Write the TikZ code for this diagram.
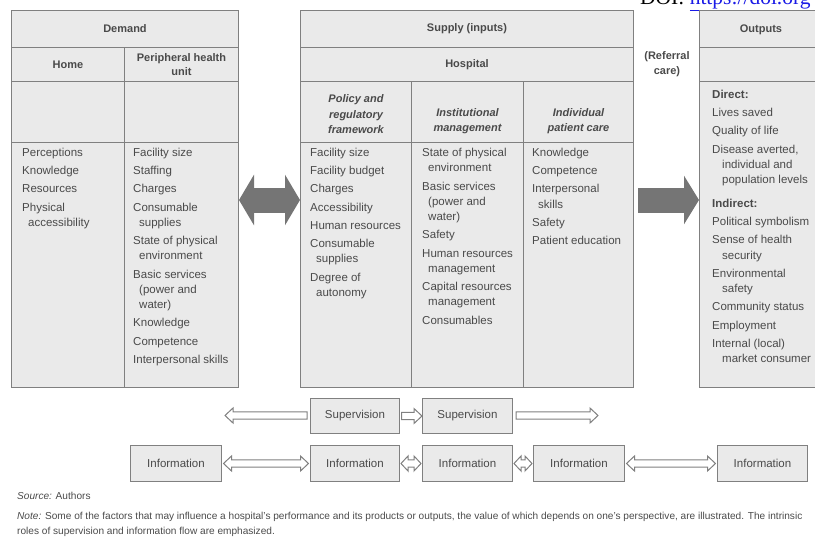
\documentclass[tikz,border=0pt]{standalone}
\usepackage{fontspec}
\setmainfont{Liberation Sans}
\newfontfamily\doifont{Liberation Serif}
\usetikzlibrary{arrows.meta,calc}
\definecolor{cellfill}{HTML}{EAEAEA}
\definecolor{cellline}{HTML}{808080}
\definecolor{txt}{HTML}{4A4A4A}
\definecolor{bigarrow}{HTML}{757575}
\definecolor{doiblue}{HTML}{1A1AE6}
\begin{document}
\begin{tikzpicture}[x=1pt,y=-1pt,
  cell/.style={draw=cellline, fill=cellfill, line width=1pt, inner sep=0pt, anchor=north west,
    text=txt, align=center, font=\fontsize{11}{14.5}\selectfont\bfseries},
  hdrit/.style={anchor=south, inner sep=0pt, align=center, text=txt,
    font=\fontsize{11}{15.5}\selectfont\bfseries\itshape},
  listtxt/.style={anchor=north west, inner sep=0pt, align=left, text=txt,
    font=\fontsize{11.5}{15.3}\selectfont},
  flowbox/.style={draw=cellline, fill=cellfill, line width=1pt, inner sep=0pt, anchor=north west,
    text=txt, font=\fontsize{11.5}{14}\selectfont},
  arrhl/.initial=8pt,
  hollow/.style={draw=cellline, fill=white, line width=1pt, line join=miter},
  % block arrow, drawn left to right, head at the right end
  blockR/.style={hollow, to path={let \p1=(\tikztostart), \p2=(\tikztotarget) in
    (\x1,\y2+3.6pt) -- (\x2-\pgfkeysvalueof{/tikz/arrhl},\y2+3.6pt) -- (\x2-\pgfkeysvalueof{/tikz/arrhl},\y2+7.5pt)
    -- (\x2,\y2) -- (\x2-\pgfkeysvalueof{/tikz/arrhl},\y2-7.5pt) -- (\x2-\pgfkeysvalueof{/tikz/arrhl},\y2-3.6pt)
    -- (\x1,\y2-3.6pt) -- cycle}},
  % head at the left end
  blockL/.style={hollow, to path={let \p1=(\tikztostart), \p2=(\tikztotarget) in
    (\x1,\y1) -- (\x1+\pgfkeysvalueof{/tikz/arrhl},\y1+7.5pt) -- (\x1+\pgfkeysvalueof{/tikz/arrhl},\y1+3.6pt)
    -- (\x2,\y1+3.6pt) -- (\x2,\y1-3.6pt) -- (\x1+\pgfkeysvalueof{/tikz/arrhl},\y1-3.6pt)
    -- (\x1+\pgfkeysvalueof{/tikz/arrhl},\y1-7.5pt) -- cycle}},
  % heads at both ends
  blockLR/.style={hollow, to path={let \p1=(\tikztostart), \p2=(\tikztotarget) in
    (\x1,\y1) -- (\x1+\pgfkeysvalueof{/tikz/arrhl},\y1+7.5pt) -- (\x1+\pgfkeysvalueof{/tikz/arrhl},\y1+3.6pt)
    -- (\x2-\pgfkeysvalueof{/tikz/arrhl},\y1+3.6pt) -- (\x2-\pgfkeysvalueof{/tikz/arrhl},\y1+7.5pt)
    -- (\x2,\y1) -- (\x2-\pgfkeysvalueof{/tikz/arrhl},\y1-7.5pt) -- (\x2-\pgfkeysvalueof{/tikz/arrhl},\y1-3.6pt)
    -- (\x1+\pgfkeysvalueof{/tikz/arrhl},\y1-3.6pt) -- (\x1+\pgfkeysvalueof{/tikz/arrhl},\y1-7.5pt) -- cycle}},
  bigarr/.style={draw=bigarrow, line width=25pt},
  notetxt/.style={anchor=north west, inner sep=0pt, align=left, text=txt,
    font=\fontsize{10.1}{15}\selectfont}
]
\path[use as bounding box] (0,0) rectangle (815,539);
\clip (0,0) rectangle (815,539);

% DOI line (cut at the top)
\node[anchor=base west, inner sep=0pt, font=\doifont\fontsize{21.5}{24}\selectfont] (doi) at (640,4.5)
  {DOI: \textcolor{doiblue}{\underline{https://doi.org}}};

% ---------------- Demand ----------------
\node[cell, minimum width=227pt, minimum height=37pt] (demandH) at (11,10) {Demand};
\node[cell, minimum width=113pt, minimum height=34pt] (homeH) at (11,47) {Home};
\node[cell, minimum width=114pt, minimum height=34pt] (periH) at (124,47) {Peripheral health\\unit};
\node[cell, minimum width=113pt, minimum height=61pt] (homeE) at (11,81) {};
\node[cell, minimum width=114pt, minimum height=61pt] (periE) at (124,81) {};
\node[cell, minimum width=113pt, minimum height=245pt] (homeC) at (11,142) {};
\node[cell, minimum width=114pt, minimum height=245pt] (periC) at (124,142) {};

\node[listtxt] (homeL) at (22,148) {Perceptions\\[2.9pt]Knowledge\\[2.9pt]Resources\\[2.9pt]Physical\\\hspace*{6pt}accessibility};
\node[listtxt] (periL) at (133,148) {Facility size\\[2.9pt]Staffing\\[2.9pt]Charges\\[2.9pt]Consumable\\\hspace*{6pt}supplies\\[2.9pt]State of physical\\\hspace*{6pt}environment\\[2.9pt]Basic services\\\hspace*{6pt}(power and\\\hspace*{6pt}water)\\[2.9pt]Knowledge\\[2.9pt]Competence\\[2.9pt]Interpersonal skills};

% ---------------- Supply ----------------
\node[cell, minimum width=333pt, minimum height=37pt] (supH) at (300,10) {Supply (inputs)};
\node[cell, minimum width=333pt, minimum height=34pt] (hospH) at (300,47) {Hospital};
\node[cell, minimum width=111pt, minimum height=61pt] (polH) at (300,81) {};
\node[cell, minimum width=112pt, minimum height=61pt] (instH) at (411,81) {};
\node[cell, minimum width=110pt, minimum height=61pt] (indH) at (523,81) {};
\node[cell, minimum width=111pt, minimum height=245pt] (polC) at (300,142) {};
\node[cell, minimum width=112pt, minimum height=245pt] (instC) at (411,142) {};
\node[cell, minimum width=110pt, minimum height=245pt] (indC) at (523,142) {};

\node[hdrit] (polT) at (polH.south |- 0,134) {Policy and\\regulatory\\framework};
\node[hdrit] (instT) at (instH.south |- 0,134) {Institutional\\management};
\node[hdrit] (indT) at (indH.south |- 0,134) {Individual\\patient care};

\node[listtxt] (polL) at (310,148) {Facility size\\[2.9pt]Facility budget\\[2.9pt]Charges\\[2.9pt]Accessibility\\[2.9pt]Human resources\\[2.9pt]Consumable\\\hspace*{6pt}supplies\\[2.9pt]Degree of\\\hspace*{6pt}autonomy};
\node[listtxt] (instL) at (422,148) {State of physical\\\hspace*{6pt}environment\\[2.9pt]Basic services\\\hspace*{6pt}(power and\\\hspace*{6pt}water)\\[2.9pt]Safety\\[2.9pt]Human resources\\\hspace*{6pt}management\\[2.9pt]Capital resources\\\hspace*{6pt}management\\[2.9pt]Consumables};
\node[listtxt] (indL) at (532,148) {Knowledge\\[2.9pt]Competence\\[2.9pt]Interpersonal\\\hspace*{6pt}skills\\[2.9pt]Safety\\[2.9pt]Patient education};

% Referral care
\node[anchor=center, inner sep=0pt, align=center, text=txt, font=\fontsize{11}{14.5}\selectfont\bfseries] (refT) at (667,64) {(Referral\\care)};

% ---------------- Outputs ----------------
\node[cell, minimum width=124pt, minimum height=37pt] (outH) at (699,10) {};
\node[anchor=center, inner sep=0pt, text=txt, font=\fontsize{11}{14.5}\selectfont\bfseries] (outT) at (761,30) {Outputs};
\node[cell, minimum width=124pt, minimum height=34pt] (outE) at (699,47) {};
\node[cell, minimum width=124pt, minimum height=306pt] (outC) at (699,81) {};
\node[listtxt] (outL) at (712,90) {\textbf{Direct:}\\[2.9pt]Lives saved\\[2.9pt]Quality of life\\[2.9pt]Disease averted,\\\hspace*{10pt}individual and\\\hspace*{10pt}population levels\\[8.5pt]\textbf{Indirect:}\\[2.9pt]Political symbolism\\[2.9pt]Sense of health\\\hspace*{10pt}security\\[2.9pt]Environmental\\\hspace*{10pt}safety\\[2.9pt]Community status\\[2.9pt]Employment\\[2.9pt]Internal (local)\\\hspace*{10pt}market consumer};

% ---------------- Big arrows ----------------
\coordinate (arrY) at (0,200);
\draw[bigarr, {Triangle[length=15pt,width=50pt]}-{Triangle[length=15pt,width=50pt]}]
  (periC.east |- arrY) -- (polC.west |- arrY);
\draw[bigarr, -{Triangle[length=15pt,width=48pt]}, shorten <=4pt]
  (indC.east |- arrY) -- (outC.west |- arrY);

% ---------------- Flow rows ----------------
\node[flowbox, minimum width=89pt, minimum height=35pt] (sup1) at (310,398) {Supervision};
\node[flowbox, minimum width=90pt, minimum height=35pt] (sup2) at (422,398) {Supervision};
\coordinate (supL) at (225,415.5);
\coordinate (supR) at (598,415.5);

\node[flowbox, minimum width=91pt, minimum height=36pt] (info1) at (130,445) {Information};
\node[flowbox, minimum width=89pt, minimum height=36pt] (info2) at (310,445) {Information};
\node[flowbox, minimum width=90pt, minimum height=36pt] (info3) at (422,445) {Information};
\node[flowbox, minimum width=91pt, minimum height=36pt] (info4) at (533,445) {Information};
\node[flowbox, minimum width=90pt, minimum height=36pt] (info5) at (717,445) {Information};

\draw[blockL] (supL) to ([xshift=-3pt]sup1.west);
\draw[blockR] ([xshift=1.5pt]sup1.east) to (sup2.west);
\draw[blockR] ([xshift=3pt]sup2.east) to (supR);
\draw[blockLR] ([xshift=1.5pt]info1.east) to ([xshift=-1.5pt]info2.west);
\draw[blockLR, arrhl=7pt] ([xshift=1pt]info2.east) to ([xshift=-1pt]info3.west);
\draw[blockLR, arrhl=7pt] ([xshift=1pt]info3.east) to ([xshift=-1pt]info4.west);
\draw[blockLR] ([xshift=1.5pt]info4.east) to ([xshift=-1.5pt]info5.west);

% ---------------- Notes ----------------
\node[notetxt] (src) at (17,492) {\textit{Source:} Authors};
\node[notetxt] (note) at (17,512) {\textit{Note:} Some of the factors that may influence a hospital’s performance and its products or outputs, the value of which depends on one’s perspective, are illustrated. The intrinsic\\roles of supervision and information flow are emphasized.};
\end{tikzpicture}
\end{document}
